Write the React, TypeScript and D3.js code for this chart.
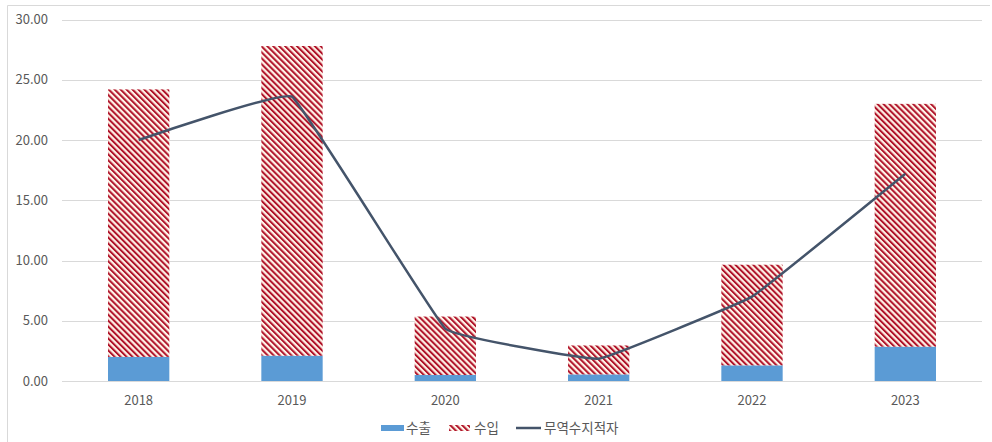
import React from "react";
import * as d3 from "d3";

const years = ["2018", "2019", "2020", "2021", "2022", "2023"];
const exportVals = [2.0, 2.1, 0.5, 0.55, 1.3, 2.85];
const importVals = [22.2, 25.7, 4.85, 2.4, 8.35, 20.15];
const deficitVals = [20.0, 23.6, 4.35, 1.85, 7.0, 17.2];
const yTicks = [0, 5, 10, 15, 20, 25, 30];
const legendLabels = ["수출", "수입", "무역수지적자"];

const W = 992;
const H = 442;
const left = 62;
const right = 982;
const top = 19.5;
const bottom = 381;

export default function App() {
  const x = d3.scaleBand<string>().domain(years).range([left, right]).paddingInner(0.6).paddingOuter(0.3);
  const y = d3.scaleLinear().domain([0, 30]).range([bottom, top]);
  const line = d3
    .line<number>()
    .x((_, i) => (x(years[i]) as number) + x.bandwidth() / 2)
    .y((d) => y(d))
    .curve(d3.curveCardinal.tension(0.8));
  const font = "'Noto Sans CJK KR', 'Noto Sans', sans-serif";
  const ly = 428;
  return (
    <svg width={W} height={H} style={{ position: "absolute", left: 0, top: 0 }}>
      <defs>
        <pattern id="stripes" width={4.2} height={8} patternUnits="userSpaceOnUse" patternTransform="rotate(-45)">
          <rect width={4.2} height={8} fill="#FFF3E8" />
          <rect width={2.0} height={8} fill="#B0132A" />
        </pattern>
      </defs>
      <rect x={0} y={0} width={W} height={H} fill="#fff" />
      <path d={`M7.5,${H} V5.5 H990`} fill="none" stroke="#D9D9D9" strokeWidth={1} />
      {yTicks.map((t) => (
        <g key={t}>
          <line x1={left} x2={right} y1={Math.round(y(t)) + 0.5} y2={Math.round(y(t)) + 0.5} stroke="#D9D9D9" strokeWidth={1} />
          <text x={48} y={y(t)} dy="0.35em" textAnchor="end" fontSize={13} fill="#595959" fontFamily={font}>
            {t.toFixed(2)}
          </text>
        </g>
      ))}
      {years.map((yr, i) => {
        const bx = x(yr) as number;
        const bw = x.bandwidth();
        return (
          <g key={yr}>
            <rect x={bx} y={y(exportVals[i])} width={bw} height={y(0) - y(exportVals[i])} fill="#5B9BD5" />
            <rect
              x={bx}
              y={y(exportVals[i] + importVals[i])}
              width={bw}
              height={y(exportVals[i]) - y(exportVals[i] + importVals[i])}
              fill="url(#stripes)"
            />
            <text x={bx + bw / 2} y={400} dy="0.35em" textAnchor="middle" fontSize={13} fill="#595959" fontFamily={font}>
              {yr}
            </text>
          </g>
        );
      })}
      <path d={line(deficitVals) || ""} fill="none" stroke="#44546A" strokeWidth={2.5} strokeLinejoin="round" />
      <g fontSize={13.5} fill="#595959" fontFamily={font}>
        <rect x={381} y={ly - 3} width={23} height={6} fill="#5B9BD5" />
        <text x={406} y={ly} dy="0.35em">{legendLabels[0]}</text>
        <rect x={449} y={ly - 3} width={21} height={6} fill="url(#stripes)" />
        <text x={474} y={ly} dy="0.35em">{legendLabels[1]}</text>
        <line x1={516} x2={541} y1={ly} y2={ly} stroke="#44546A" strokeWidth={2.5} />
        <text x={544} y={ly} dy="0.35em">{legendLabels[2]}</text>
      </g>
    </svg>
  );
}
